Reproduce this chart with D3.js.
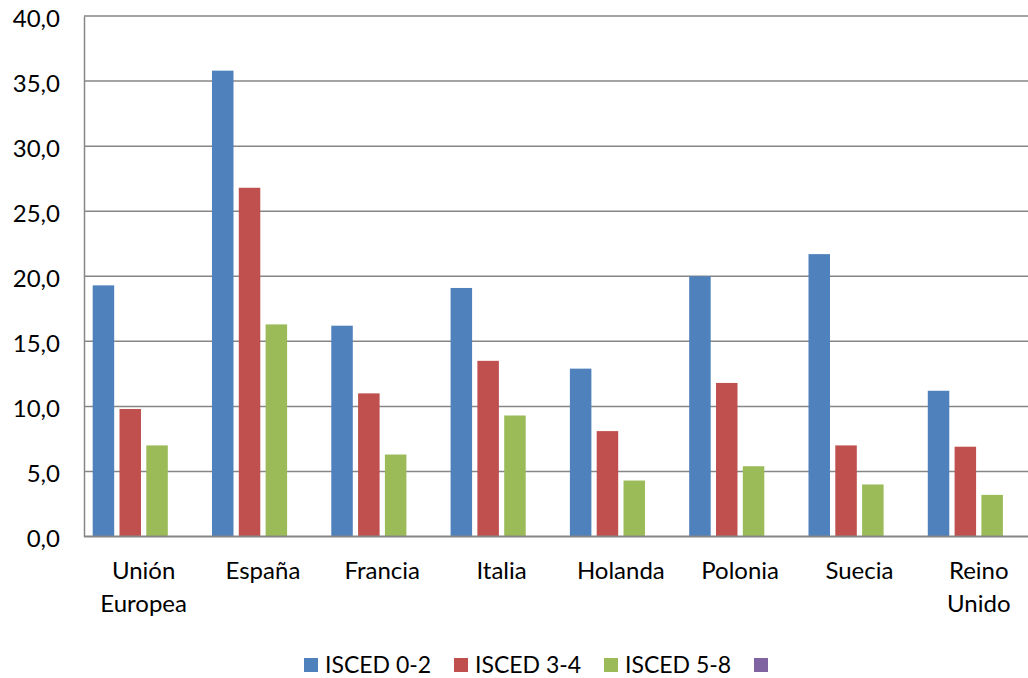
<!DOCTYPE html>
<html>
<head>
<meta charset="utf-8">
<script src="https://cdn.jsdelivr.net/npm/d3@7/dist/d3.min.js"></script>
<style>
  html, body { margin: 0; padding: 0; background: #fff; }
  svg { display: block; font-family: Lato, "Open Sans", sans-serif; }
</style>
</head>
<body>
<svg id="chart" width="1028" height="678"></svg>
<script>
// Countries (labels may wrap onto two lines)
const categories = [
  ["Unión", "Europea"], ["España"], ["Francia"], ["Italia"],
  ["Holanda"], ["Polonia"], ["Suecia"], ["Reino", "Unido"]
];
const seriesNames = ["ISCED 0-2", "ISCED 3-4", "ISCED 5-8", ""];
const isced02 = [19.3, 35.8, 16.2, 19.1, 12.9, 20.0, 21.7, 11.2];
const isced34 = [9.8, 26.8, 11.0, 13.5, 8.1, 11.8, 7.0, 6.9];
const isced58 = [7.0, 16.3, 6.3, 9.3, 4.3, 5.4, 4.0, 3.2];
const isced4th = [null, null, null, null, null, null, null, null];
const yTicks = [0, 5, 10, 15, 20, 25, 30, 35, 40];
const colors = ["#4F81BD", "#C0504D", "#9BBB59", "#8064A2"];

const seriesValues = [isced02, isced34, isced58, isced4th];

const svg = d3.select("#chart");
const plot = { left: 84, top: 16, bottom: 536.5, right: 84 + 8 * 119.3 };

const y = d3.scaleLinear().domain([0, 40]).range([plot.bottom, plot.top]);
const x0 = d3.scaleBand().domain(d3.range(categories.length))
  .range([plot.left, plot.right]).paddingInner(0).paddingOuter(0);
const x1 = d3.scaleBand().domain(d3.range(seriesNames.length))
  .range([0, x0.bandwidth()]).paddingInner(0.198).paddingOuter(0.324);

// Horizontal gridlines
svg.append("g").selectAll("line").data(yTicks.filter(t => t > 0)).join("line")
  .attr("x1", plot.left).attr("x2", 1028)
  .attr("y1", d => y(d)).attr("y2", d => y(d))
  .attr("stroke", "#868686").attr("stroke-width", 1.5);

// Y axis
const yAxis = d3.axisLeft(y).tickValues(yTicks).tickSize(0).tickPadding(24)
  .tickFormat(d => d3.format(".1f")(d).replace(".", ","));
const gy = svg.append("g").attr("transform", `translate(${plot.left},0)`).call(yAxis);
gy.select(".domain").attr("stroke", "#868686").attr("stroke-width", 1.5);
gy.selectAll("text").attr("font-size", 24).attr("fill", "#000")
  .attr("font-family", "Lato, sans-serif").attr("dy", "0.42em");

// Bars
const groups = svg.append("g").selectAll("g").data(categories).join("g")
  .attr("transform", (d, i) => `translate(${x0(i)},0)`);
groups.selectAll("rect")
  .data((d, i) => seriesValues.map((vals, s) => ({ s, v: vals[i] })).filter(e => e.v != null))
  .join("rect")
  .attr("x", d => x1(d.s))
  .attr("width", x1.bandwidth())
  .attr("y", d => y(d.v))
  .attr("height", d => y(0) - y(d.v))
  .attr("fill", d => colors[d.s]);

// X axis line
svg.append("line")
  .attr("x1", plot.left).attr("x2", 1028)
  .attr("y1", plot.bottom).attr("y2", plot.bottom)
  .attr("stroke", "#868686").attr("stroke-width", 2);

// Category labels
const xl = svg.append("g").selectAll("text").data(categories).join("text")
  .attr("x", (d, i) => x0(i) + x0.bandwidth() / 2)
  .attr("y", 579)
  .attr("text-anchor", "middle")
  .attr("font-size", 24).attr("fill", "#000");
xl.selectAll("tspan").data(d => d).join("tspan")
  .attr("x", function () { return this.parentNode.getAttribute("x"); })
  .attr("dy", (d, i) => i === 0 ? 0 : 32.5)
  .text(d => d);

// Legend
const legend = svg.append("g").selectAll("g").data(seriesNames).join("g")
  .attr("transform", (d, i) => `translate(${304 + i * 150},0)`);
legend.append("rect").attr("x", 0).attr("y", 658).attr("width", 14).attr("height", 14)
  .attr("fill", (d, i) => colors[i]);
legend.append("text").attr("x", 21).attr("y", 673)
  .attr("font-size", 23).attr("fill", "#000").text(d => d);
</script>
</body>
</html>
